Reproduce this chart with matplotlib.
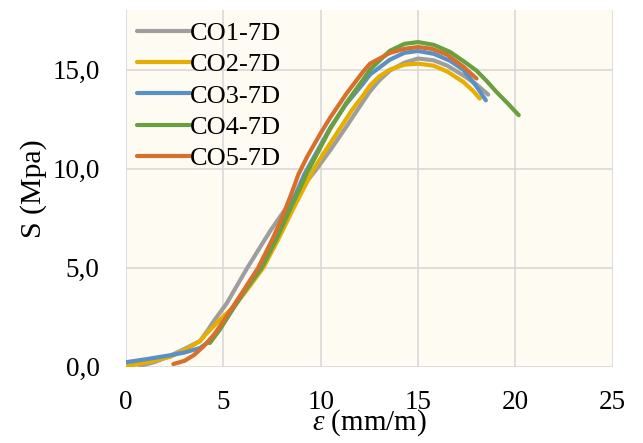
import numpy as np
import matplotlib
matplotlib.use("Agg")
import matplotlib.pyplot as plt
from matplotlib.ticker import FuncFormatter

plt.rcParams["font.family"] = ["Liberation Serif", "DejaVu Serif"]
plt.rcParams["mathtext.fontset"] = "custom"
plt.rcParams["mathtext.rm"] = "Liberation Serif"
plt.rcParams["mathtext.it"] = "Liberation Serif:italic"

# strain (mm/m) and stress (MPa)
co1_x = [0.7, 1.5, 2.26, 3.0, 3.8, 4.2, 4.5, 5.17, 5.7, 6.2, 6.8, 7.4, 8.0, 8.8, 9.8, 10.5, 11.3, 12.18, 12.53, 13.0, 13.55, 14.3, 15.0, 15.8, 16.5, 17.32, 18.0, 18.6]
co1_y = [0.04, 0.25, 0.55, 0.9, 1.3, 1.85, 2.3, 3.2, 4.1, 4.95, 5.9, 6.85, 7.7, 8.75, 10.0, 10.95, 12.1, 13.4, 13.9, 14.45, 14.95, 15.35, 15.56, 15.47, 15.2, 14.71, 14.25, 13.74]

co2_x = [0.03, 1.0, 2.26, 3.2, 3.8, 4.06, 4.8, 5.6, 6.3, 7.05, 7.8, 8.6, 9.62, 10.3, 11.0, 11.6, 12.18, 12.53, 13.0, 13.55, 14.3, 15.0, 15.8, 16.5, 17.32, 17.8, 18.17]
co2_y = [0.04, 0.2, 0.5, 0.95, 1.3, 1.6, 2.35, 3.1, 4.0, 5.0, 6.4, 8.0, 9.95, 11.0, 12.05, 12.95, 13.7, 14.2, 14.65, 15.0, 15.25, 15.3, 15.2, 14.9, 14.38, 13.95, 13.54]

co3_x = [0.0, 1.0, 2.26, 3.0, 3.8, 4.3, 4.8, 5.34, 6.0, 6.9, 7.7, 8.4, 9.15, 10.0, 10.48, 11.3, 12.18, 12.53, 13.55, 14.3, 15.0, 15.8, 16.63, 17.32, 18.0, 18.48]
co3_y = [0.23, 0.38, 0.58, 0.72, 0.95, 1.3, 1.9, 2.7, 3.7, 5.0, 6.5, 8.0, 9.7, 11.2, 12.05, 13.25, 14.3, 14.75, 15.5, 15.85, 15.94, 15.8, 15.45, 15.0, 14.15, 13.45]

co4_x = [4.3, 4.8, 5.34, 6.0, 6.97, 7.7, 8.4, 8.93, 9.3, 10.0, 10.48, 11.3, 12.18, 12.53, 13.55, 14.3, 15.0, 15.8, 16.63, 17.3, 18.0, 18.5, 19.03, 19.6, 20.17]
co4_y = [1.2, 1.85, 2.7, 3.7, 5.0, 6.4, 7.9, 9.0, 9.8, 11.1, 12.0, 13.3, 14.5, 15.0, 15.95, 16.3, 16.39, 16.25, 15.9, 15.45, 14.95, 14.45, 13.87, 13.3, 12.7]

co5_x = [2.43, 3.0, 3.5, 4.0, 4.5, 5.0, 5.5, 6.0, 6.79, 7.5, 8.0, 8.5, 8.85, 9.3, 10.0, 10.5, 11.33, 12.18, 12.53, 13.55, 14.3, 15.0, 15.7, 16.5, 17.32, 18.0]
co5_y = [0.14, 0.3, 0.6, 1.05, 1.6, 2.3, 3.05, 3.8, 5.0, 6.4, 7.5, 8.75, 9.7, 10.6, 11.8, 12.6, 13.8, 14.9, 15.3, 15.84, 16.05, 16.14, 16.05, 15.75, 15.15, 14.55]

labels = ["CO1-7D", "CO2-7D", "CO3-7D", "CO4-7D", "CO5-7D"]
colors = ["#9E9E9E", "#E6AE00", "#5A90C6", "#68A03F", "#D6702C"]
series = [(co1_x, co1_y), (co2_x, co2_y), (co3_x, co3_y), (co4_x, co4_y), (co5_x, co5_y)]

fig = plt.figure(figsize=(6.43, 4.43), dpi=100)
ax = fig.add_axes([0.196, 0.172, 0.757, 0.805])
ax.set_facecolor("#FEFBF3")

for (xs, ys), lab, col in zip(series, labels, colors):
	ax.plot(xs, ys, color=col, lw=3.0, label=lab, solid_capstyle="round",
		solid_joinstyle="round", zorder=3)

ax.set_xlim(0, 25)
ax.set_ylim(0, 18)
ax.set_xticks([0, 5, 10, 15, 20, 25])
ax.set_yticks([0, 5, 10, 15])
ax.yaxis.set_major_formatter(FuncFormatter(lambda v, p: f"{v:.1f}".replace(".", ",")))
ax.grid(True, color="#D9D9D9", lw=1.2, zorder=0)
ax.set_axisbelow(True)
for s in ax.spines.values():
	s.set_visible(False)
ax.tick_params(axis="both", length=0, labelsize=19.5)
ax.tick_params(axis="y", pad=19)
ax.tick_params(axis="x", pad=17)

ax.set_xlabel(r"$\mathit{\varepsilon}$ (mm/m)", fontsize=21, labelpad=-6)
ax.set_ylabel("S (Mpa)", fontsize=21.5, labelpad=4)

ax.legend(loc="upper left", frameon=False, fontsize=19, handlelength=2.0,
	handletextpad=0.0, labelspacing=0.3, borderaxespad=0.0, borderpad=0.42,
	bbox_to_anchor=(0.0, 1.0))

fig.savefig("out.png", dpi=100)
